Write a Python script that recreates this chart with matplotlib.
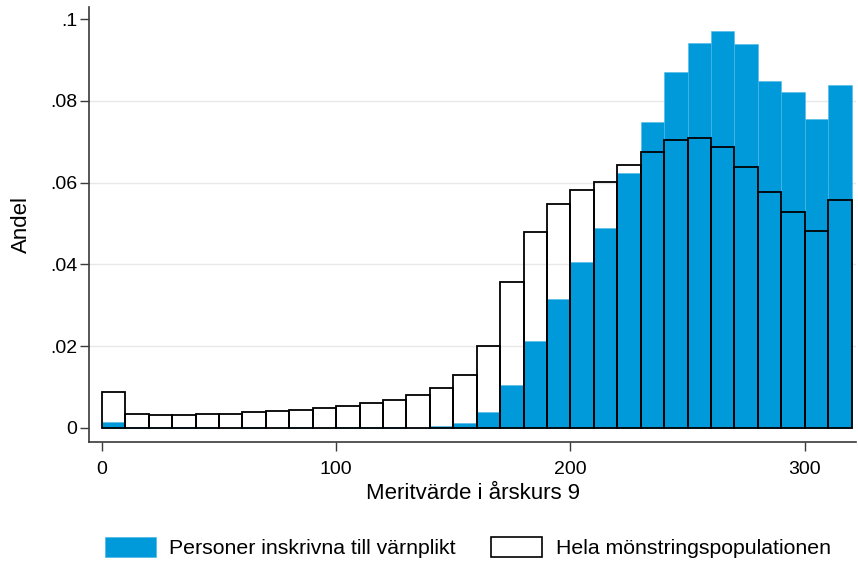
import matplotlib.pyplot as plt
from matplotlib.patches import Patch

plt.rcParams["font.family"] = ["Liberation Sans", "DejaVu Sans"]

# bin edges for merit value, width 10 from 0 to 320
bin_left = list(range(0, 320, 10))

# share per bin, enrolled for conscription (blue)
enrolled = [0.0014, 0.0001, 0.0001, 0.0001, 0.0001, 0.0000, 0.0001, 0.0000,
            0.0001, 0.0000, 0.0001, 0.0001, 0.0001, 0.0000, 0.0003, 0.0012,
            0.0039, 0.0105, 0.0212, 0.0314, 0.0406, 0.0488, 0.0624, 0.0748,
            0.0870, 0.0943, 0.0972, 0.0940, 0.0848, 0.0821, 0.0755, 0.0838]

# share per bin, whole conscription population (hollow)
population = [0.0087, 0.0034, 0.0030, 0.0031, 0.0033, 0.0034, 0.0038, 0.0040,
              0.0044, 0.0048, 0.0053, 0.0061, 0.0069, 0.0080, 0.0098, 0.0128,
              0.0200, 0.0357, 0.0480, 0.0548, 0.0583, 0.0602, 0.0642, 0.0676,
              0.0704, 0.0710, 0.0687, 0.0638, 0.0576, 0.0527, 0.0482, 0.0557]

yticks = [0, 0.02, 0.04, 0.06, 0.08, 0.1]
ytick_labels = ["0", ".02", ".04", ".06", ".08", ".1"]
xticks = [0, 100, 200, 300]

blue = "#0099da"
axis_color = "#3a3a3a"

fig = plt.figure(figsize=(8.58, 5.62), dpi=100)
ax = fig.add_axes([0.1037, 0.2135, 0.8943, 0.774])

for y in yticks[1:-1]:
    ax.axhline(y, color="#e8e8e8", linewidth=1.0, zorder=0)

ax.bar(bin_left, enrolled, width=10, align="edge", color=blue,
       edgecolor="#4db8e6", linewidth=0.4, zorder=2)
ax.bar(bin_left, population, width=10, align="edge", fill=False,
       edgecolor="black", linewidth=1.3, zorder=3)

ax.set_xlim(-5.5, 322)
ax.set_ylim(-0.0035, 0.1030)

ax.set_xticks(xticks)
ax.set_yticks(yticks)
ax.set_yticklabels(ytick_labels)

for side in ["top", "right"]:
    ax.spines[side].set_visible(False)
for side in ["left", "bottom"]:
    ax.spines[side].set_color(axis_color)
    ax.spines[side].set_linewidth(1.2)

ax.tick_params(axis="both", direction="out", length=6.5, width=1.0,
               color=axis_color, labelsize=14)
ax.tick_params(axis="x", pad=7)
ax.tick_params(axis="y", pad=2)

ax.set_xlabel("Meritvärde i årskurs 9", fontsize=16, labelpad=4)
ax.set_ylabel("Andel", fontsize=16)
ax.yaxis.set_label_coords(-0.074, 0.5)

handles = [
    Patch(facecolor=blue, edgecolor="#4db8e6", linewidth=0.5),
    Patch(facecolor="white", edgecolor="black", linewidth=1.2),
]
labels = ["Personer inskrivna till värnplikt", "Hela mönstringspopulationen"]
fig.legend(handles, labels, loc="center", bbox_to_anchor=(0.545, 0.026),
           ncol=2, frameon=False, fontsize=15.3, handlelength=2.4,
           handleheight=1.1, columnspacing=1.7, handletextpad=0.62)

plt.savefig("out.png", dpi=100)
plt.close()
